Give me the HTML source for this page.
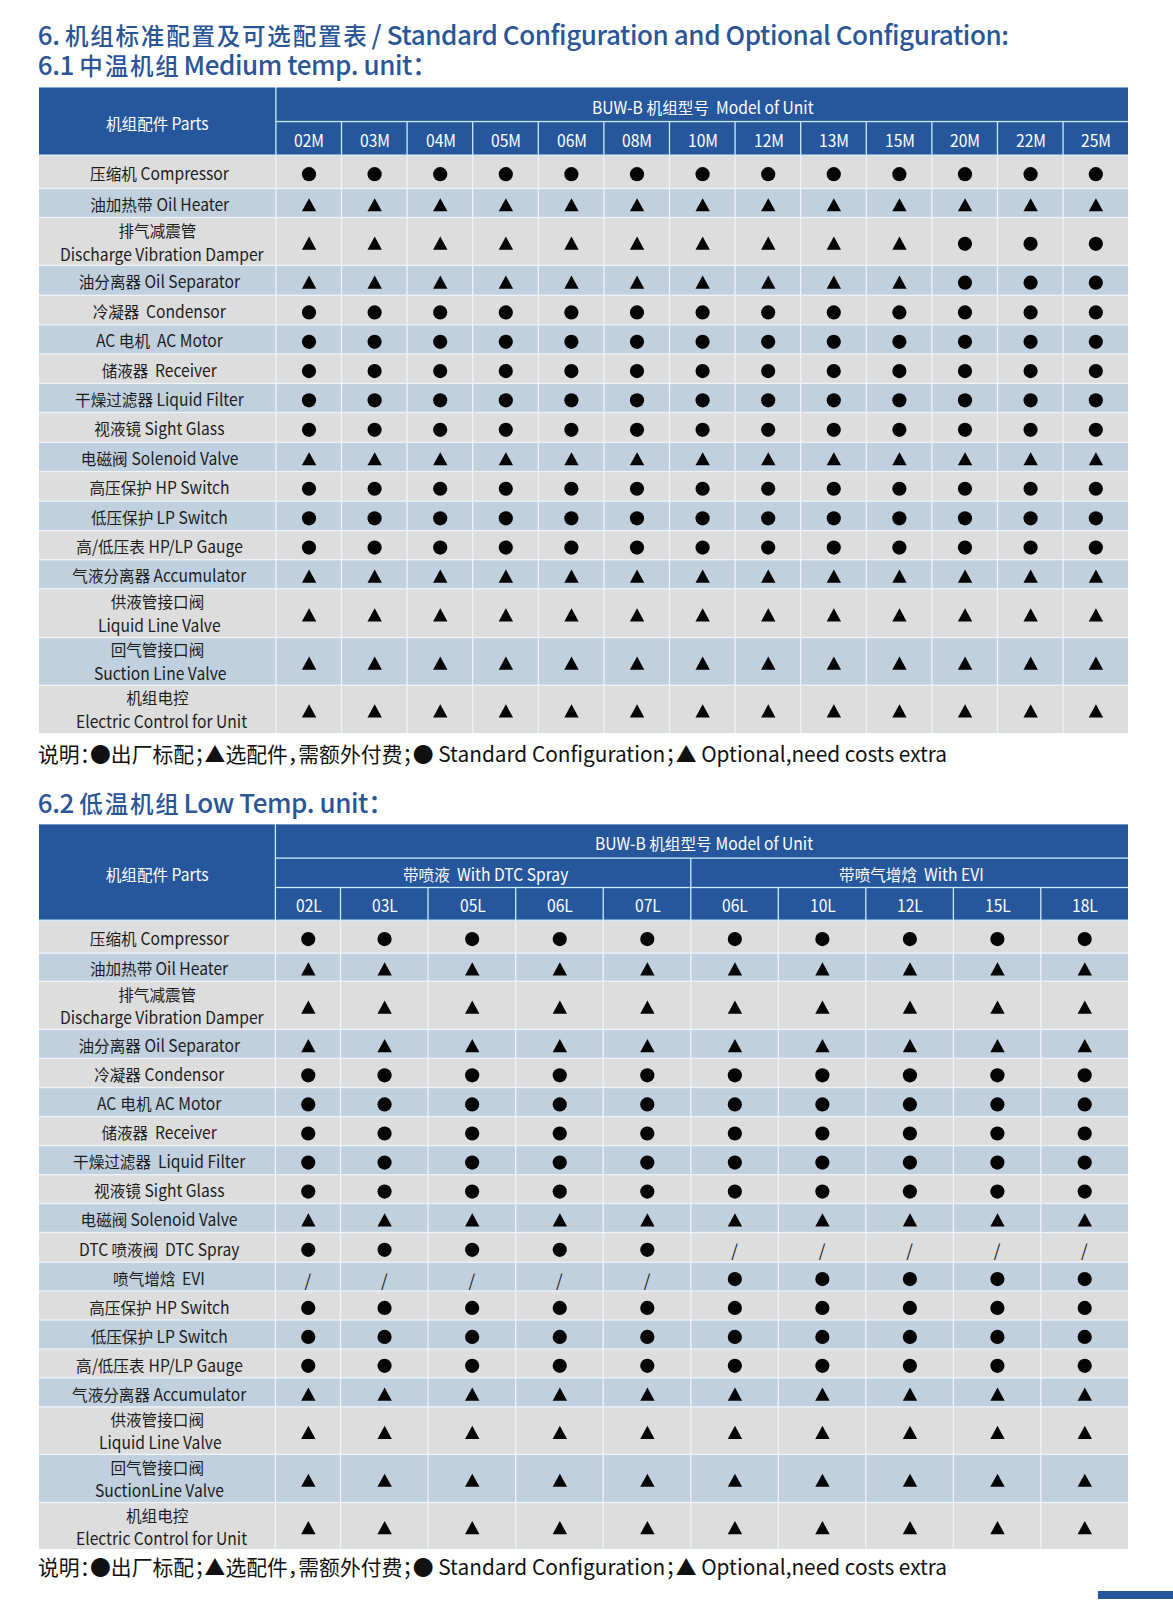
<!DOCTYPE html>
<html lang="zh-CN"><head><meta charset="utf-8"><title>Standard Configuration and Optional Configuration</title>
<style>
html,body{margin:0;padding:0;background:#fff;}
body{width:1173px;height:1600px;position:relative;overflow:hidden;font-family:"Noto Sans CJK SC", "Liberation Sans", sans-serif;}
.g{position:absolute;left:0;top:0;}
.t{position:absolute;height:24px;text-align:center;white-space:nowrap;}
.t span{display:inline-block;white-space:pre;}
.t .l{transform:scaleX(0.92);transform-origin:0 0;}
.t .k{font-size:15.6px;}
.sl{position:absolute;width:20px;height:24px;line-height:24px;text-align:center;font-size:17px;color:#222;}
.ttl{position:absolute;left:37.8px;color:#2a5596;font-size:26px;font-weight:500;white-space:nowrap;line-height:30px;letter-spacing:-0.42px;}
.ttl .cj{font-size:23.5px;letter-spacing:1.8px;margin-right:3px;}
.note{position:absolute;left:38.3px;color:#111;font-size:21px;white-space:nowrap;line-height:26px;font-feature-settings:'halt';transform:scaleX(0.9915);transform-origin:0 0;}
.bar{position:absolute;left:1098.3px;top:1590.6px;width:75px;height:8.6px;background:#26579d;}
</style></head><body>
<div class="ttl" style="top:19px">6. <span class="cj">机组标准配置及可选配置表</span>/ Standard Configuration and Optional Configuration:</div>
<div class="ttl" style="top:49px">6.1 <span class="cj">中温机组</span>Medium temp. unit：</div>
<svg class="g" width="1173" height="1600" viewBox="0 0 1173 1600"><rect x="39.00" y="155.10" width="1089.00" height="578.00" fill="#edf3f9"/><rect x="39.00" y="87.50" width="1089.00" height="68.25" fill="#c8ecfc"/><rect x="39.00" y="87.50" width="236.25" height="66.95" fill="#26579d"/><rect x="276.55" y="87.50" width="851.45" height="33.40" fill="#26579d"/><rect x="276.55" y="122.20" width="64.30" height="32.25" fill="#26579d"/><rect x="342.15" y="122.20" width="64.30" height="32.25" fill="#26579d"/><rect x="407.74" y="122.20" width="64.30" height="32.25" fill="#26579d"/><rect x="473.34" y="122.20" width="64.30" height="32.25" fill="#26579d"/><rect x="538.94" y="122.20" width="64.30" height="32.25" fill="#26579d"/><rect x="604.53" y="122.20" width="64.30" height="32.25" fill="#26579d"/><rect x="670.13" y="122.20" width="64.30" height="32.25" fill="#26579d"/><rect x="735.73" y="122.20" width="64.30" height="32.25" fill="#26579d"/><rect x="801.33" y="122.20" width="64.30" height="32.25" fill="#26579d"/><rect x="866.92" y="122.20" width="64.30" height="32.25" fill="#26579d"/><rect x="932.52" y="122.20" width="64.30" height="32.25" fill="#26579d"/><rect x="998.12" y="122.20" width="64.30" height="32.25" fill="#26579d"/><rect x="1063.71" y="122.20" width="64.29" height="32.25" fill="#26579d"/><rect x="39.00" y="155.75" width="236.25" height="32.00" fill="#dddddd"/><rect x="276.55" y="155.75" width="64.30" height="32.00" fill="#dddddd"/><rect x="342.15" y="155.75" width="64.30" height="32.00" fill="#dddddd"/><rect x="407.74" y="155.75" width="64.30" height="32.00" fill="#dddddd"/><rect x="473.34" y="155.75" width="64.30" height="32.00" fill="#dddddd"/><rect x="538.94" y="155.75" width="64.30" height="32.00" fill="#dddddd"/><rect x="604.53" y="155.75" width="64.30" height="32.00" fill="#dddddd"/><rect x="670.13" y="155.75" width="64.30" height="32.00" fill="#dddddd"/><rect x="735.73" y="155.75" width="64.30" height="32.00" fill="#dddddd"/><rect x="801.33" y="155.75" width="64.30" height="32.00" fill="#dddddd"/><rect x="866.92" y="155.75" width="64.30" height="32.00" fill="#dddddd"/><rect x="932.52" y="155.75" width="64.30" height="32.00" fill="#dddddd"/><rect x="998.12" y="155.75" width="64.30" height="32.00" fill="#dddddd"/><rect x="1063.71" y="155.75" width="64.29" height="32.00" fill="#dddddd"/><circle cx="309.00" cy="174.15" r="7.1" fill="#050505"/><circle cx="374.60" cy="174.15" r="7.1" fill="#050505"/><circle cx="440.19" cy="174.15" r="7.1" fill="#050505"/><circle cx="505.79" cy="174.15" r="7.1" fill="#050505"/><circle cx="571.39" cy="174.15" r="7.1" fill="#050505"/><circle cx="636.98" cy="174.15" r="7.1" fill="#050505"/><circle cx="702.58" cy="174.15" r="7.1" fill="#050505"/><circle cx="768.18" cy="174.15" r="7.1" fill="#050505"/><circle cx="833.77" cy="174.15" r="7.1" fill="#050505"/><circle cx="899.37" cy="174.15" r="7.1" fill="#050505"/><circle cx="964.97" cy="174.15" r="7.1" fill="#050505"/><circle cx="1030.57" cy="174.15" r="7.1" fill="#050505"/><circle cx="1095.83" cy="174.15" r="7.1" fill="#050505"/><rect x="39.00" y="189.05" width="236.25" height="27.80" fill="#c0d0de"/><rect x="276.55" y="189.05" width="64.30" height="27.80" fill="#c0d0de"/><rect x="342.15" y="189.05" width="64.30" height="27.80" fill="#c0d0de"/><rect x="407.74" y="189.05" width="64.30" height="27.80" fill="#c0d0de"/><rect x="473.34" y="189.05" width="64.30" height="27.80" fill="#c0d0de"/><rect x="538.94" y="189.05" width="64.30" height="27.80" fill="#c0d0de"/><rect x="604.53" y="189.05" width="64.30" height="27.80" fill="#c0d0de"/><rect x="670.13" y="189.05" width="64.30" height="27.80" fill="#c0d0de"/><rect x="735.73" y="189.05" width="64.30" height="27.80" fill="#c0d0de"/><rect x="801.33" y="189.05" width="64.30" height="27.80" fill="#c0d0de"/><rect x="866.92" y="189.05" width="64.30" height="27.80" fill="#c0d0de"/><rect x="932.52" y="189.05" width="64.30" height="27.80" fill="#c0d0de"/><rect x="998.12" y="189.05" width="64.30" height="27.80" fill="#c0d0de"/><rect x="1063.71" y="189.05" width="64.29" height="27.80" fill="#c0d0de"/><polygon points="309.10,198.15 316.30,211.35 301.90,211.35" fill="#050505"/><polygon points="374.70,198.15 381.90,211.35 367.50,211.35" fill="#050505"/><polygon points="440.29,198.15 447.49,211.35 433.09,211.35" fill="#050505"/><polygon points="505.89,198.15 513.09,211.35 498.69,211.35" fill="#050505"/><polygon points="571.49,198.15 578.69,211.35 564.29,211.35" fill="#050505"/><polygon points="637.08,198.15 644.28,211.35 629.88,211.35" fill="#050505"/><polygon points="702.68,198.15 709.88,211.35 695.48,211.35" fill="#050505"/><polygon points="768.28,198.15 775.48,211.35 761.08,211.35" fill="#050505"/><polygon points="833.87,198.15 841.07,211.35 826.67,211.35" fill="#050505"/><polygon points="899.47,198.15 906.67,211.35 892.27,211.35" fill="#050505"/><polygon points="965.07,198.15 972.27,211.35 957.87,211.35" fill="#050505"/><polygon points="1030.67,198.15 1037.87,211.35 1023.47,211.35" fill="#050505"/><polygon points="1095.93,198.15 1103.13,211.35 1088.73,211.35" fill="#050505"/><rect x="39.00" y="218.15" width="236.25" height="46.50" fill="#dddddd"/><rect x="276.55" y="218.15" width="64.30" height="46.50" fill="#dddddd"/><rect x="342.15" y="218.15" width="64.30" height="46.50" fill="#dddddd"/><rect x="407.74" y="218.15" width="64.30" height="46.50" fill="#dddddd"/><rect x="473.34" y="218.15" width="64.30" height="46.50" fill="#dddddd"/><rect x="538.94" y="218.15" width="64.30" height="46.50" fill="#dddddd"/><rect x="604.53" y="218.15" width="64.30" height="46.50" fill="#dddddd"/><rect x="670.13" y="218.15" width="64.30" height="46.50" fill="#dddddd"/><rect x="735.73" y="218.15" width="64.30" height="46.50" fill="#dddddd"/><rect x="801.33" y="218.15" width="64.30" height="46.50" fill="#dddddd"/><rect x="866.92" y="218.15" width="64.30" height="46.50" fill="#dddddd"/><rect x="932.52" y="218.15" width="64.30" height="46.50" fill="#dddddd"/><rect x="998.12" y="218.15" width="64.30" height="46.50" fill="#dddddd"/><rect x="1063.71" y="218.15" width="64.29" height="46.50" fill="#dddddd"/><polygon points="309.10,236.60 316.30,249.80 301.90,249.80" fill="#050505"/><polygon points="374.70,236.60 381.90,249.80 367.50,249.80" fill="#050505"/><polygon points="440.29,236.60 447.49,249.80 433.09,249.80" fill="#050505"/><polygon points="505.89,236.60 513.09,249.80 498.69,249.80" fill="#050505"/><polygon points="571.49,236.60 578.69,249.80 564.29,249.80" fill="#050505"/><polygon points="637.08,236.60 644.28,249.80 629.88,249.80" fill="#050505"/><polygon points="702.68,236.60 709.88,249.80 695.48,249.80" fill="#050505"/><polygon points="768.28,236.60 775.48,249.80 761.08,249.80" fill="#050505"/><polygon points="833.87,236.60 841.07,249.80 826.67,249.80" fill="#050505"/><polygon points="899.47,236.60 906.67,249.80 892.27,249.80" fill="#050505"/><circle cx="964.97" cy="243.80" r="7.1" fill="#050505"/><circle cx="1030.57" cy="243.80" r="7.1" fill="#050505"/><circle cx="1095.83" cy="243.80" r="7.1" fill="#050505"/><rect x="39.00" y="265.95" width="236.25" height="28.70" fill="#c0d0de"/><rect x="276.55" y="265.95" width="64.30" height="28.70" fill="#c0d0de"/><rect x="342.15" y="265.95" width="64.30" height="28.70" fill="#c0d0de"/><rect x="407.74" y="265.95" width="64.30" height="28.70" fill="#c0d0de"/><rect x="473.34" y="265.95" width="64.30" height="28.70" fill="#c0d0de"/><rect x="538.94" y="265.95" width="64.30" height="28.70" fill="#c0d0de"/><rect x="604.53" y="265.95" width="64.30" height="28.70" fill="#c0d0de"/><rect x="670.13" y="265.95" width="64.30" height="28.70" fill="#c0d0de"/><rect x="735.73" y="265.95" width="64.30" height="28.70" fill="#c0d0de"/><rect x="801.33" y="265.95" width="64.30" height="28.70" fill="#c0d0de"/><rect x="866.92" y="265.95" width="64.30" height="28.70" fill="#c0d0de"/><rect x="932.52" y="265.95" width="64.30" height="28.70" fill="#c0d0de"/><rect x="998.12" y="265.95" width="64.30" height="28.70" fill="#c0d0de"/><rect x="1063.71" y="265.95" width="64.29" height="28.70" fill="#c0d0de"/><polygon points="309.10,275.50 316.30,288.70 301.90,288.70" fill="#050505"/><polygon points="374.70,275.50 381.90,288.70 367.50,288.70" fill="#050505"/><polygon points="440.29,275.50 447.49,288.70 433.09,288.70" fill="#050505"/><polygon points="505.89,275.50 513.09,288.70 498.69,288.70" fill="#050505"/><polygon points="571.49,275.50 578.69,288.70 564.29,288.70" fill="#050505"/><polygon points="637.08,275.50 644.28,288.70 629.88,288.70" fill="#050505"/><polygon points="702.68,275.50 709.88,288.70 695.48,288.70" fill="#050505"/><polygon points="768.28,275.50 775.48,288.70 761.08,288.70" fill="#050505"/><polygon points="833.87,275.50 841.07,288.70 826.67,288.70" fill="#050505"/><polygon points="899.47,275.50 906.67,288.70 892.27,288.70" fill="#050505"/><circle cx="964.97" cy="282.70" r="7.1" fill="#050505"/><circle cx="1030.57" cy="282.70" r="7.1" fill="#050505"/><circle cx="1095.83" cy="282.70" r="7.1" fill="#050505"/><rect x="39.00" y="295.95" width="236.25" height="28.20" fill="#dddddd"/><rect x="276.55" y="295.95" width="64.30" height="28.20" fill="#dddddd"/><rect x="342.15" y="295.95" width="64.30" height="28.20" fill="#dddddd"/><rect x="407.74" y="295.95" width="64.30" height="28.20" fill="#dddddd"/><rect x="473.34" y="295.95" width="64.30" height="28.20" fill="#dddddd"/><rect x="538.94" y="295.95" width="64.30" height="28.20" fill="#dddddd"/><rect x="604.53" y="295.95" width="64.30" height="28.20" fill="#dddddd"/><rect x="670.13" y="295.95" width="64.30" height="28.20" fill="#dddddd"/><rect x="735.73" y="295.95" width="64.30" height="28.20" fill="#dddddd"/><rect x="801.33" y="295.95" width="64.30" height="28.20" fill="#dddddd"/><rect x="866.92" y="295.95" width="64.30" height="28.20" fill="#dddddd"/><rect x="932.52" y="295.95" width="64.30" height="28.20" fill="#dddddd"/><rect x="998.12" y="295.95" width="64.30" height="28.20" fill="#dddddd"/><rect x="1063.71" y="295.95" width="64.29" height="28.20" fill="#dddddd"/><circle cx="309.00" cy="312.45" r="7.1" fill="#050505"/><circle cx="374.60" cy="312.45" r="7.1" fill="#050505"/><circle cx="440.19" cy="312.45" r="7.1" fill="#050505"/><circle cx="505.79" cy="312.45" r="7.1" fill="#050505"/><circle cx="571.39" cy="312.45" r="7.1" fill="#050505"/><circle cx="636.98" cy="312.45" r="7.1" fill="#050505"/><circle cx="702.58" cy="312.45" r="7.1" fill="#050505"/><circle cx="768.18" cy="312.45" r="7.1" fill="#050505"/><circle cx="833.77" cy="312.45" r="7.1" fill="#050505"/><circle cx="899.37" cy="312.45" r="7.1" fill="#050505"/><circle cx="964.97" cy="312.45" r="7.1" fill="#050505"/><circle cx="1030.57" cy="312.45" r="7.1" fill="#050505"/><circle cx="1095.83" cy="312.45" r="7.1" fill="#050505"/><rect x="39.00" y="325.45" width="236.25" height="27.90" fill="#c0d0de"/><rect x="276.55" y="325.45" width="64.30" height="27.90" fill="#c0d0de"/><rect x="342.15" y="325.45" width="64.30" height="27.90" fill="#c0d0de"/><rect x="407.74" y="325.45" width="64.30" height="27.90" fill="#c0d0de"/><rect x="473.34" y="325.45" width="64.30" height="27.90" fill="#c0d0de"/><rect x="538.94" y="325.45" width="64.30" height="27.90" fill="#c0d0de"/><rect x="604.53" y="325.45" width="64.30" height="27.90" fill="#c0d0de"/><rect x="670.13" y="325.45" width="64.30" height="27.90" fill="#c0d0de"/><rect x="735.73" y="325.45" width="64.30" height="27.90" fill="#c0d0de"/><rect x="801.33" y="325.45" width="64.30" height="27.90" fill="#c0d0de"/><rect x="866.92" y="325.45" width="64.30" height="27.90" fill="#c0d0de"/><rect x="932.52" y="325.45" width="64.30" height="27.90" fill="#c0d0de"/><rect x="998.12" y="325.45" width="64.30" height="27.90" fill="#c0d0de"/><rect x="1063.71" y="325.45" width="64.29" height="27.90" fill="#c0d0de"/><circle cx="309.00" cy="341.80" r="7.1" fill="#050505"/><circle cx="374.60" cy="341.80" r="7.1" fill="#050505"/><circle cx="440.19" cy="341.80" r="7.1" fill="#050505"/><circle cx="505.79" cy="341.80" r="7.1" fill="#050505"/><circle cx="571.39" cy="341.80" r="7.1" fill="#050505"/><circle cx="636.98" cy="341.80" r="7.1" fill="#050505"/><circle cx="702.58" cy="341.80" r="7.1" fill="#050505"/><circle cx="768.18" cy="341.80" r="7.1" fill="#050505"/><circle cx="833.77" cy="341.80" r="7.1" fill="#050505"/><circle cx="899.37" cy="341.80" r="7.1" fill="#050505"/><circle cx="964.97" cy="341.80" r="7.1" fill="#050505"/><circle cx="1030.57" cy="341.80" r="7.1" fill="#050505"/><circle cx="1095.83" cy="341.80" r="7.1" fill="#050505"/><rect x="39.00" y="354.65" width="236.25" height="28.10" fill="#dddddd"/><rect x="276.55" y="354.65" width="64.30" height="28.10" fill="#dddddd"/><rect x="342.15" y="354.65" width="64.30" height="28.10" fill="#dddddd"/><rect x="407.74" y="354.65" width="64.30" height="28.10" fill="#dddddd"/><rect x="473.34" y="354.65" width="64.30" height="28.10" fill="#dddddd"/><rect x="538.94" y="354.65" width="64.30" height="28.10" fill="#dddddd"/><rect x="604.53" y="354.65" width="64.30" height="28.10" fill="#dddddd"/><rect x="670.13" y="354.65" width="64.30" height="28.10" fill="#dddddd"/><rect x="735.73" y="354.65" width="64.30" height="28.10" fill="#dddddd"/><rect x="801.33" y="354.65" width="64.30" height="28.10" fill="#dddddd"/><rect x="866.92" y="354.65" width="64.30" height="28.10" fill="#dddddd"/><rect x="932.52" y="354.65" width="64.30" height="28.10" fill="#dddddd"/><rect x="998.12" y="354.65" width="64.30" height="28.10" fill="#dddddd"/><rect x="1063.71" y="354.65" width="64.29" height="28.10" fill="#dddddd"/><circle cx="309.00" cy="371.10" r="7.1" fill="#050505"/><circle cx="374.60" cy="371.10" r="7.1" fill="#050505"/><circle cx="440.19" cy="371.10" r="7.1" fill="#050505"/><circle cx="505.79" cy="371.10" r="7.1" fill="#050505"/><circle cx="571.39" cy="371.10" r="7.1" fill="#050505"/><circle cx="636.98" cy="371.10" r="7.1" fill="#050505"/><circle cx="702.58" cy="371.10" r="7.1" fill="#050505"/><circle cx="768.18" cy="371.10" r="7.1" fill="#050505"/><circle cx="833.77" cy="371.10" r="7.1" fill="#050505"/><circle cx="899.37" cy="371.10" r="7.1" fill="#050505"/><circle cx="964.97" cy="371.10" r="7.1" fill="#050505"/><circle cx="1030.57" cy="371.10" r="7.1" fill="#050505"/><circle cx="1095.83" cy="371.10" r="7.1" fill="#050505"/><rect x="39.00" y="384.05" width="236.25" height="27.80" fill="#c0d0de"/><rect x="276.55" y="384.05" width="64.30" height="27.80" fill="#c0d0de"/><rect x="342.15" y="384.05" width="64.30" height="27.80" fill="#c0d0de"/><rect x="407.74" y="384.05" width="64.30" height="27.80" fill="#c0d0de"/><rect x="473.34" y="384.05" width="64.30" height="27.80" fill="#c0d0de"/><rect x="538.94" y="384.05" width="64.30" height="27.80" fill="#c0d0de"/><rect x="604.53" y="384.05" width="64.30" height="27.80" fill="#c0d0de"/><rect x="670.13" y="384.05" width="64.30" height="27.80" fill="#c0d0de"/><rect x="735.73" y="384.05" width="64.30" height="27.80" fill="#c0d0de"/><rect x="801.33" y="384.05" width="64.30" height="27.80" fill="#c0d0de"/><rect x="866.92" y="384.05" width="64.30" height="27.80" fill="#c0d0de"/><rect x="932.52" y="384.05" width="64.30" height="27.80" fill="#c0d0de"/><rect x="998.12" y="384.05" width="64.30" height="27.80" fill="#c0d0de"/><rect x="1063.71" y="384.05" width="64.29" height="27.80" fill="#c0d0de"/><circle cx="309.00" cy="400.35" r="7.1" fill="#050505"/><circle cx="374.60" cy="400.35" r="7.1" fill="#050505"/><circle cx="440.19" cy="400.35" r="7.1" fill="#050505"/><circle cx="505.79" cy="400.35" r="7.1" fill="#050505"/><circle cx="571.39" cy="400.35" r="7.1" fill="#050505"/><circle cx="636.98" cy="400.35" r="7.1" fill="#050505"/><circle cx="702.58" cy="400.35" r="7.1" fill="#050505"/><circle cx="768.18" cy="400.35" r="7.1" fill="#050505"/><circle cx="833.77" cy="400.35" r="7.1" fill="#050505"/><circle cx="899.37" cy="400.35" r="7.1" fill="#050505"/><circle cx="964.97" cy="400.35" r="7.1" fill="#050505"/><circle cx="1030.57" cy="400.35" r="7.1" fill="#050505"/><circle cx="1095.83" cy="400.35" r="7.1" fill="#050505"/><rect x="39.00" y="413.15" width="236.25" height="28.60" fill="#dddddd"/><rect x="276.55" y="413.15" width="64.30" height="28.60" fill="#dddddd"/><rect x="342.15" y="413.15" width="64.30" height="28.60" fill="#dddddd"/><rect x="407.74" y="413.15" width="64.30" height="28.60" fill="#dddddd"/><rect x="473.34" y="413.15" width="64.30" height="28.60" fill="#dddddd"/><rect x="538.94" y="413.15" width="64.30" height="28.60" fill="#dddddd"/><rect x="604.53" y="413.15" width="64.30" height="28.60" fill="#dddddd"/><rect x="670.13" y="413.15" width="64.30" height="28.60" fill="#dddddd"/><rect x="735.73" y="413.15" width="64.30" height="28.60" fill="#dddddd"/><rect x="801.33" y="413.15" width="64.30" height="28.60" fill="#dddddd"/><rect x="866.92" y="413.15" width="64.30" height="28.60" fill="#dddddd"/><rect x="932.52" y="413.15" width="64.30" height="28.60" fill="#dddddd"/><rect x="998.12" y="413.15" width="64.30" height="28.60" fill="#dddddd"/><rect x="1063.71" y="413.15" width="64.29" height="28.60" fill="#dddddd"/><circle cx="309.00" cy="429.85" r="7.1" fill="#050505"/><circle cx="374.60" cy="429.85" r="7.1" fill="#050505"/><circle cx="440.19" cy="429.85" r="7.1" fill="#050505"/><circle cx="505.79" cy="429.85" r="7.1" fill="#050505"/><circle cx="571.39" cy="429.85" r="7.1" fill="#050505"/><circle cx="636.98" cy="429.85" r="7.1" fill="#050505"/><circle cx="702.58" cy="429.85" r="7.1" fill="#050505"/><circle cx="768.18" cy="429.85" r="7.1" fill="#050505"/><circle cx="833.77" cy="429.85" r="7.1" fill="#050505"/><circle cx="899.37" cy="429.85" r="7.1" fill="#050505"/><circle cx="964.97" cy="429.85" r="7.1" fill="#050505"/><circle cx="1030.57" cy="429.85" r="7.1" fill="#050505"/><circle cx="1095.83" cy="429.85" r="7.1" fill="#050505"/><rect x="39.00" y="443.05" width="236.25" height="27.80" fill="#c0d0de"/><rect x="276.55" y="443.05" width="64.30" height="27.80" fill="#c0d0de"/><rect x="342.15" y="443.05" width="64.30" height="27.80" fill="#c0d0de"/><rect x="407.74" y="443.05" width="64.30" height="27.80" fill="#c0d0de"/><rect x="473.34" y="443.05" width="64.30" height="27.80" fill="#c0d0de"/><rect x="538.94" y="443.05" width="64.30" height="27.80" fill="#c0d0de"/><rect x="604.53" y="443.05" width="64.30" height="27.80" fill="#c0d0de"/><rect x="670.13" y="443.05" width="64.30" height="27.80" fill="#c0d0de"/><rect x="735.73" y="443.05" width="64.30" height="27.80" fill="#c0d0de"/><rect x="801.33" y="443.05" width="64.30" height="27.80" fill="#c0d0de"/><rect x="866.92" y="443.05" width="64.30" height="27.80" fill="#c0d0de"/><rect x="932.52" y="443.05" width="64.30" height="27.80" fill="#c0d0de"/><rect x="998.12" y="443.05" width="64.30" height="27.80" fill="#c0d0de"/><rect x="1063.71" y="443.05" width="64.29" height="27.80" fill="#c0d0de"/><polygon points="309.10,452.15 316.30,465.35 301.90,465.35" fill="#050505"/><polygon points="374.70,452.15 381.90,465.35 367.50,465.35" fill="#050505"/><polygon points="440.29,452.15 447.49,465.35 433.09,465.35" fill="#050505"/><polygon points="505.89,452.15 513.09,465.35 498.69,465.35" fill="#050505"/><polygon points="571.49,452.15 578.69,465.35 564.29,465.35" fill="#050505"/><polygon points="637.08,452.15 644.28,465.35 629.88,465.35" fill="#050505"/><polygon points="702.68,452.15 709.88,465.35 695.48,465.35" fill="#050505"/><polygon points="768.28,452.15 775.48,465.35 761.08,465.35" fill="#050505"/><polygon points="833.87,452.15 841.07,465.35 826.67,465.35" fill="#050505"/><polygon points="899.47,452.15 906.67,465.35 892.27,465.35" fill="#050505"/><polygon points="965.07,452.15 972.27,465.35 957.87,465.35" fill="#050505"/><polygon points="1030.67,452.15 1037.87,465.35 1023.47,465.35" fill="#050505"/><polygon points="1095.93,452.15 1103.13,465.35 1088.73,465.35" fill="#050505"/><rect x="39.00" y="472.15" width="236.25" height="28.40" fill="#dddddd"/><rect x="276.55" y="472.15" width="64.30" height="28.40" fill="#dddddd"/><rect x="342.15" y="472.15" width="64.30" height="28.40" fill="#dddddd"/><rect x="407.74" y="472.15" width="64.30" height="28.40" fill="#dddddd"/><rect x="473.34" y="472.15" width="64.30" height="28.40" fill="#dddddd"/><rect x="538.94" y="472.15" width="64.30" height="28.40" fill="#dddddd"/><rect x="604.53" y="472.15" width="64.30" height="28.40" fill="#dddddd"/><rect x="670.13" y="472.15" width="64.30" height="28.40" fill="#dddddd"/><rect x="735.73" y="472.15" width="64.30" height="28.40" fill="#dddddd"/><rect x="801.33" y="472.15" width="64.30" height="28.40" fill="#dddddd"/><rect x="866.92" y="472.15" width="64.30" height="28.40" fill="#dddddd"/><rect x="932.52" y="472.15" width="64.30" height="28.40" fill="#dddddd"/><rect x="998.12" y="472.15" width="64.30" height="28.40" fill="#dddddd"/><rect x="1063.71" y="472.15" width="64.29" height="28.40" fill="#dddddd"/><circle cx="309.00" cy="488.75" r="7.1" fill="#050505"/><circle cx="374.60" cy="488.75" r="7.1" fill="#050505"/><circle cx="440.19" cy="488.75" r="7.1" fill="#050505"/><circle cx="505.79" cy="488.75" r="7.1" fill="#050505"/><circle cx="571.39" cy="488.75" r="7.1" fill="#050505"/><circle cx="636.98" cy="488.75" r="7.1" fill="#050505"/><circle cx="702.58" cy="488.75" r="7.1" fill="#050505"/><circle cx="768.18" cy="488.75" r="7.1" fill="#050505"/><circle cx="833.77" cy="488.75" r="7.1" fill="#050505"/><circle cx="899.37" cy="488.75" r="7.1" fill="#050505"/><circle cx="964.97" cy="488.75" r="7.1" fill="#050505"/><circle cx="1030.57" cy="488.75" r="7.1" fill="#050505"/><circle cx="1095.83" cy="488.75" r="7.1" fill="#050505"/><rect x="39.00" y="501.85" width="236.25" height="28.10" fill="#c0d0de"/><rect x="276.55" y="501.85" width="64.30" height="28.10" fill="#c0d0de"/><rect x="342.15" y="501.85" width="64.30" height="28.10" fill="#c0d0de"/><rect x="407.74" y="501.85" width="64.30" height="28.10" fill="#c0d0de"/><rect x="473.34" y="501.85" width="64.30" height="28.10" fill="#c0d0de"/><rect x="538.94" y="501.85" width="64.30" height="28.10" fill="#c0d0de"/><rect x="604.53" y="501.85" width="64.30" height="28.10" fill="#c0d0de"/><rect x="670.13" y="501.85" width="64.30" height="28.10" fill="#c0d0de"/><rect x="735.73" y="501.85" width="64.30" height="28.10" fill="#c0d0de"/><rect x="801.33" y="501.85" width="64.30" height="28.10" fill="#c0d0de"/><rect x="866.92" y="501.85" width="64.30" height="28.10" fill="#c0d0de"/><rect x="932.52" y="501.85" width="64.30" height="28.10" fill="#c0d0de"/><rect x="998.12" y="501.85" width="64.30" height="28.10" fill="#c0d0de"/><rect x="1063.71" y="501.85" width="64.29" height="28.10" fill="#c0d0de"/><circle cx="309.00" cy="518.30" r="7.1" fill="#050505"/><circle cx="374.60" cy="518.30" r="7.1" fill="#050505"/><circle cx="440.19" cy="518.30" r="7.1" fill="#050505"/><circle cx="505.79" cy="518.30" r="7.1" fill="#050505"/><circle cx="571.39" cy="518.30" r="7.1" fill="#050505"/><circle cx="636.98" cy="518.30" r="7.1" fill="#050505"/><circle cx="702.58" cy="518.30" r="7.1" fill="#050505"/><circle cx="768.18" cy="518.30" r="7.1" fill="#050505"/><circle cx="833.77" cy="518.30" r="7.1" fill="#050505"/><circle cx="899.37" cy="518.30" r="7.1" fill="#050505"/><circle cx="964.97" cy="518.30" r="7.1" fill="#050505"/><circle cx="1030.57" cy="518.30" r="7.1" fill="#050505"/><circle cx="1095.83" cy="518.30" r="7.1" fill="#050505"/><rect x="39.00" y="531.25" width="236.25" height="27.85" fill="#dddddd"/><rect x="276.55" y="531.25" width="64.30" height="27.85" fill="#dddddd"/><rect x="342.15" y="531.25" width="64.30" height="27.85" fill="#dddddd"/><rect x="407.74" y="531.25" width="64.30" height="27.85" fill="#dddddd"/><rect x="473.34" y="531.25" width="64.30" height="27.85" fill="#dddddd"/><rect x="538.94" y="531.25" width="64.30" height="27.85" fill="#dddddd"/><rect x="604.53" y="531.25" width="64.30" height="27.85" fill="#dddddd"/><rect x="670.13" y="531.25" width="64.30" height="27.85" fill="#dddddd"/><rect x="735.73" y="531.25" width="64.30" height="27.85" fill="#dddddd"/><rect x="801.33" y="531.25" width="64.30" height="27.85" fill="#dddddd"/><rect x="866.92" y="531.25" width="64.30" height="27.85" fill="#dddddd"/><rect x="932.52" y="531.25" width="64.30" height="27.85" fill="#dddddd"/><rect x="998.12" y="531.25" width="64.30" height="27.85" fill="#dddddd"/><rect x="1063.71" y="531.25" width="64.29" height="27.85" fill="#dddddd"/><circle cx="309.00" cy="547.57" r="7.1" fill="#050505"/><circle cx="374.60" cy="547.57" r="7.1" fill="#050505"/><circle cx="440.19" cy="547.57" r="7.1" fill="#050505"/><circle cx="505.79" cy="547.57" r="7.1" fill="#050505"/><circle cx="571.39" cy="547.57" r="7.1" fill="#050505"/><circle cx="636.98" cy="547.57" r="7.1" fill="#050505"/><circle cx="702.58" cy="547.57" r="7.1" fill="#050505"/><circle cx="768.18" cy="547.57" r="7.1" fill="#050505"/><circle cx="833.77" cy="547.57" r="7.1" fill="#050505"/><circle cx="899.37" cy="547.57" r="7.1" fill="#050505"/><circle cx="964.97" cy="547.57" r="7.1" fill="#050505"/><circle cx="1030.57" cy="547.57" r="7.1" fill="#050505"/><circle cx="1095.83" cy="547.57" r="7.1" fill="#050505"/><rect x="39.00" y="560.40" width="236.25" height="27.70" fill="#c0d0de"/><rect x="276.55" y="560.40" width="64.30" height="27.70" fill="#c0d0de"/><rect x="342.15" y="560.40" width="64.30" height="27.70" fill="#c0d0de"/><rect x="407.74" y="560.40" width="64.30" height="27.70" fill="#c0d0de"/><rect x="473.34" y="560.40" width="64.30" height="27.70" fill="#c0d0de"/><rect x="538.94" y="560.40" width="64.30" height="27.70" fill="#c0d0de"/><rect x="604.53" y="560.40" width="64.30" height="27.70" fill="#c0d0de"/><rect x="670.13" y="560.40" width="64.30" height="27.70" fill="#c0d0de"/><rect x="735.73" y="560.40" width="64.30" height="27.70" fill="#c0d0de"/><rect x="801.33" y="560.40" width="64.30" height="27.70" fill="#c0d0de"/><rect x="866.92" y="560.40" width="64.30" height="27.70" fill="#c0d0de"/><rect x="932.52" y="560.40" width="64.30" height="27.70" fill="#c0d0de"/><rect x="998.12" y="560.40" width="64.30" height="27.70" fill="#c0d0de"/><rect x="1063.71" y="560.40" width="64.29" height="27.70" fill="#c0d0de"/><polygon points="309.10,569.45 316.30,582.65 301.90,582.65" fill="#050505"/><polygon points="374.70,569.45 381.90,582.65 367.50,582.65" fill="#050505"/><polygon points="440.29,569.45 447.49,582.65 433.09,582.65" fill="#050505"/><polygon points="505.89,569.45 513.09,582.65 498.69,582.65" fill="#050505"/><polygon points="571.49,569.45 578.69,582.65 564.29,582.65" fill="#050505"/><polygon points="637.08,569.45 644.28,582.65 629.88,582.65" fill="#050505"/><polygon points="702.68,569.45 709.88,582.65 695.48,582.65" fill="#050505"/><polygon points="768.28,569.45 775.48,582.65 761.08,582.65" fill="#050505"/><polygon points="833.87,569.45 841.07,582.65 826.67,582.65" fill="#050505"/><polygon points="899.47,569.45 906.67,582.65 892.27,582.65" fill="#050505"/><polygon points="965.07,569.45 972.27,582.65 957.87,582.65" fill="#050505"/><polygon points="1030.67,569.45 1037.87,582.65 1023.47,582.65" fill="#050505"/><polygon points="1095.93,569.45 1103.13,582.65 1088.73,582.65" fill="#050505"/><rect x="39.00" y="589.40" width="236.25" height="47.45" fill="#dddddd"/><rect x="276.55" y="589.40" width="64.30" height="47.45" fill="#dddddd"/><rect x="342.15" y="589.40" width="64.30" height="47.45" fill="#dddddd"/><rect x="407.74" y="589.40" width="64.30" height="47.45" fill="#dddddd"/><rect x="473.34" y="589.40" width="64.30" height="47.45" fill="#dddddd"/><rect x="538.94" y="589.40" width="64.30" height="47.45" fill="#dddddd"/><rect x="604.53" y="589.40" width="64.30" height="47.45" fill="#dddddd"/><rect x="670.13" y="589.40" width="64.30" height="47.45" fill="#dddddd"/><rect x="735.73" y="589.40" width="64.30" height="47.45" fill="#dddddd"/><rect x="801.33" y="589.40" width="64.30" height="47.45" fill="#dddddd"/><rect x="866.92" y="589.40" width="64.30" height="47.45" fill="#dddddd"/><rect x="932.52" y="589.40" width="64.30" height="47.45" fill="#dddddd"/><rect x="998.12" y="589.40" width="64.30" height="47.45" fill="#dddddd"/><rect x="1063.71" y="589.40" width="64.29" height="47.45" fill="#dddddd"/><polygon points="309.10,608.32 316.30,621.52 301.90,621.52" fill="#050505"/><polygon points="374.70,608.32 381.90,621.52 367.50,621.52" fill="#050505"/><polygon points="440.29,608.32 447.49,621.52 433.09,621.52" fill="#050505"/><polygon points="505.89,608.32 513.09,621.52 498.69,621.52" fill="#050505"/><polygon points="571.49,608.32 578.69,621.52 564.29,621.52" fill="#050505"/><polygon points="637.08,608.32 644.28,621.52 629.88,621.52" fill="#050505"/><polygon points="702.68,608.32 709.88,621.52 695.48,621.52" fill="#050505"/><polygon points="768.28,608.32 775.48,621.52 761.08,621.52" fill="#050505"/><polygon points="833.87,608.32 841.07,621.52 826.67,621.52" fill="#050505"/><polygon points="899.47,608.32 906.67,621.52 892.27,621.52" fill="#050505"/><polygon points="965.07,608.32 972.27,621.52 957.87,621.52" fill="#050505"/><polygon points="1030.67,608.32 1037.87,621.52 1023.47,621.52" fill="#050505"/><polygon points="1095.93,608.32 1103.13,621.52 1088.73,621.52" fill="#050505"/><rect x="39.00" y="638.15" width="236.25" height="46.45" fill="#c0d0de"/><rect x="276.55" y="638.15" width="64.30" height="46.45" fill="#c0d0de"/><rect x="342.15" y="638.15" width="64.30" height="46.45" fill="#c0d0de"/><rect x="407.74" y="638.15" width="64.30" height="46.45" fill="#c0d0de"/><rect x="473.34" y="638.15" width="64.30" height="46.45" fill="#c0d0de"/><rect x="538.94" y="638.15" width="64.30" height="46.45" fill="#c0d0de"/><rect x="604.53" y="638.15" width="64.30" height="46.45" fill="#c0d0de"/><rect x="670.13" y="638.15" width="64.30" height="46.45" fill="#c0d0de"/><rect x="735.73" y="638.15" width="64.30" height="46.45" fill="#c0d0de"/><rect x="801.33" y="638.15" width="64.30" height="46.45" fill="#c0d0de"/><rect x="866.92" y="638.15" width="64.30" height="46.45" fill="#c0d0de"/><rect x="932.52" y="638.15" width="64.30" height="46.45" fill="#c0d0de"/><rect x="998.12" y="638.15" width="64.30" height="46.45" fill="#c0d0de"/><rect x="1063.71" y="638.15" width="64.29" height="46.45" fill="#c0d0de"/><polygon points="309.10,656.57 316.30,669.77 301.90,669.77" fill="#050505"/><polygon points="374.70,656.57 381.90,669.77 367.50,669.77" fill="#050505"/><polygon points="440.29,656.57 447.49,669.77 433.09,669.77" fill="#050505"/><polygon points="505.89,656.57 513.09,669.77 498.69,669.77" fill="#050505"/><polygon points="571.49,656.57 578.69,669.77 564.29,669.77" fill="#050505"/><polygon points="637.08,656.57 644.28,669.77 629.88,669.77" fill="#050505"/><polygon points="702.68,656.57 709.88,669.77 695.48,669.77" fill="#050505"/><polygon points="768.28,656.57 775.48,669.77 761.08,669.77" fill="#050505"/><polygon points="833.87,656.57 841.07,669.77 826.67,669.77" fill="#050505"/><polygon points="899.47,656.57 906.67,669.77 892.27,669.77" fill="#050505"/><polygon points="965.07,656.57 972.27,669.77 957.87,669.77" fill="#050505"/><polygon points="1030.67,656.57 1037.87,669.77 1023.47,669.77" fill="#050505"/><polygon points="1095.93,656.57 1103.13,669.77 1088.73,669.77" fill="#050505"/><rect x="39.00" y="685.90" width="236.25" height="47.20" fill="#dddddd"/><rect x="276.55" y="685.90" width="64.30" height="47.20" fill="#dddddd"/><rect x="342.15" y="685.90" width="64.30" height="47.20" fill="#dddddd"/><rect x="407.74" y="685.90" width="64.30" height="47.20" fill="#dddddd"/><rect x="473.34" y="685.90" width="64.30" height="47.20" fill="#dddddd"/><rect x="538.94" y="685.90" width="64.30" height="47.20" fill="#dddddd"/><rect x="604.53" y="685.90" width="64.30" height="47.20" fill="#dddddd"/><rect x="670.13" y="685.90" width="64.30" height="47.20" fill="#dddddd"/><rect x="735.73" y="685.90" width="64.30" height="47.20" fill="#dddddd"/><rect x="801.33" y="685.90" width="64.30" height="47.20" fill="#dddddd"/><rect x="866.92" y="685.90" width="64.30" height="47.20" fill="#dddddd"/><rect x="932.52" y="685.90" width="64.30" height="47.20" fill="#dddddd"/><rect x="998.12" y="685.90" width="64.30" height="47.20" fill="#dddddd"/><rect x="1063.71" y="685.90" width="64.29" height="47.20" fill="#dddddd"/><polygon points="309.10,704.37 316.30,717.57 301.90,717.57" fill="#050505"/><polygon points="374.70,704.37 381.90,717.57 367.50,717.57" fill="#050505"/><polygon points="440.29,704.37 447.49,717.57 433.09,717.57" fill="#050505"/><polygon points="505.89,704.37 513.09,717.57 498.69,717.57" fill="#050505"/><polygon points="571.49,704.37 578.69,717.57 564.29,717.57" fill="#050505"/><polygon points="637.08,704.37 644.28,717.57 629.88,717.57" fill="#050505"/><polygon points="702.68,704.37 709.88,717.57 695.48,717.57" fill="#050505"/><polygon points="768.28,704.37 775.48,717.57 761.08,717.57" fill="#050505"/><polygon points="833.87,704.37 841.07,717.57 826.67,717.57" fill="#050505"/><polygon points="899.47,704.37 906.67,717.57 892.27,717.57" fill="#050505"/><polygon points="965.07,704.37 972.27,717.57 957.87,717.57" fill="#050505"/><polygon points="1030.67,704.37 1037.87,717.57 1023.47,717.57" fill="#050505"/><polygon points="1095.93,704.37 1103.13,717.57 1088.73,717.57" fill="#050505"/><rect x="39.00" y="920.20" width="1089.00" height="628.80" fill="#edf3f9"/><rect x="39.00" y="824.40" width="1089.00" height="96.45" fill="#c8ecfc"/><rect x="39.00" y="824.40" width="235.75" height="95.15" fill="#26579d"/><rect x="276.05" y="824.40" width="851.95" height="33.05" fill="#26579d"/><rect x="276.05" y="858.75" width="414.10" height="28.10" fill="#26579d"/><rect x="691.45" y="858.75" width="436.55" height="28.10" fill="#26579d"/><rect x="276.05" y="888.15" width="63.80" height="31.40" fill="#26579d"/><rect x="341.15" y="888.15" width="86.20" height="31.40" fill="#26579d"/><rect x="428.65" y="888.15" width="86.40" height="31.40" fill="#26579d"/><rect x="516.35" y="888.15" width="86.20" height="31.40" fill="#26579d"/><rect x="603.85" y="888.15" width="86.30" height="31.40" fill="#26579d"/><rect x="691.45" y="888.15" width="86.20" height="31.40" fill="#26579d"/><rect x="778.95" y="888.15" width="86.20" height="31.40" fill="#26579d"/><rect x="866.45" y="888.15" width="86.30" height="31.40" fill="#26579d"/><rect x="954.05" y="888.15" width="86.10" height="31.40" fill="#26579d"/><rect x="1041.45" y="888.15" width="86.55" height="31.40" fill="#26579d"/><rect x="39.00" y="920.85" width="235.75" height="31.60" fill="#dddddd"/><rect x="276.05" y="920.85" width="63.80" height="31.60" fill="#dddddd"/><rect x="341.15" y="920.85" width="86.20" height="31.60" fill="#dddddd"/><rect x="428.65" y="920.85" width="86.40" height="31.60" fill="#dddddd"/><rect x="516.35" y="920.85" width="86.20" height="31.60" fill="#dddddd"/><rect x="603.85" y="920.85" width="86.30" height="31.60" fill="#dddddd"/><rect x="691.45" y="920.85" width="86.20" height="31.60" fill="#dddddd"/><rect x="778.95" y="920.85" width="86.20" height="31.60" fill="#dddddd"/><rect x="866.45" y="920.85" width="86.30" height="31.60" fill="#dddddd"/><rect x="954.05" y="920.85" width="86.10" height="31.60" fill="#dddddd"/><rect x="1041.45" y="920.85" width="86.55" height="31.60" fill="#dddddd"/><circle cx="308.25" cy="939.05" r="7.1" fill="#050505"/><circle cx="384.55" cy="939.05" r="7.1" fill="#050505"/><circle cx="472.15" cy="939.05" r="7.1" fill="#050505"/><circle cx="559.75" cy="939.05" r="7.1" fill="#050505"/><circle cx="647.30" cy="939.05" r="7.1" fill="#050505"/><circle cx="734.85" cy="939.05" r="7.1" fill="#050505"/><circle cx="822.35" cy="939.05" r="7.1" fill="#050505"/><circle cx="909.90" cy="939.05" r="7.1" fill="#050505"/><circle cx="997.40" cy="939.05" r="7.1" fill="#050505"/><circle cx="1084.70" cy="939.05" r="7.1" fill="#050505"/><rect x="39.00" y="953.75" width="235.75" height="26.85" fill="#c0d0de"/><rect x="276.05" y="953.75" width="63.80" height="26.85" fill="#c0d0de"/><rect x="341.15" y="953.75" width="86.20" height="26.85" fill="#c0d0de"/><rect x="428.65" y="953.75" width="86.40" height="26.85" fill="#c0d0de"/><rect x="516.35" y="953.75" width="86.20" height="26.85" fill="#c0d0de"/><rect x="603.85" y="953.75" width="86.30" height="26.85" fill="#c0d0de"/><rect x="691.45" y="953.75" width="86.20" height="26.85" fill="#c0d0de"/><rect x="778.95" y="953.75" width="86.20" height="26.85" fill="#c0d0de"/><rect x="866.45" y="953.75" width="86.30" height="26.85" fill="#c0d0de"/><rect x="954.05" y="953.75" width="86.10" height="26.85" fill="#c0d0de"/><rect x="1041.45" y="953.75" width="86.55" height="26.85" fill="#c0d0de"/><polygon points="308.35,962.37 315.55,975.57 301.15,975.57" fill="#050505"/><polygon points="384.65,962.37 391.85,975.57 377.45,975.57" fill="#050505"/><polygon points="472.25,962.37 479.45,975.57 465.05,975.57" fill="#050505"/><polygon points="559.85,962.37 567.05,975.57 552.65,975.57" fill="#050505"/><polygon points="647.40,962.37 654.60,975.57 640.20,975.57" fill="#050505"/><polygon points="734.95,962.37 742.15,975.57 727.75,975.57" fill="#050505"/><polygon points="822.45,962.37 829.65,975.57 815.25,975.57" fill="#050505"/><polygon points="910.00,962.37 917.20,975.57 902.80,975.57" fill="#050505"/><polygon points="997.50,962.37 1004.70,975.57 990.30,975.57" fill="#050505"/><polygon points="1084.80,962.37 1092.00,975.57 1077.60,975.57" fill="#050505"/><rect x="39.00" y="981.90" width="235.75" height="46.85" fill="#dddddd"/><rect x="276.05" y="981.90" width="63.80" height="46.85" fill="#dddddd"/><rect x="341.15" y="981.90" width="86.20" height="46.85" fill="#dddddd"/><rect x="428.65" y="981.90" width="86.40" height="46.85" fill="#dddddd"/><rect x="516.35" y="981.90" width="86.20" height="46.85" fill="#dddddd"/><rect x="603.85" y="981.90" width="86.30" height="46.85" fill="#dddddd"/><rect x="691.45" y="981.90" width="86.20" height="46.85" fill="#dddddd"/><rect x="778.95" y="981.90" width="86.20" height="46.85" fill="#dddddd"/><rect x="866.45" y="981.90" width="86.30" height="46.85" fill="#dddddd"/><rect x="954.05" y="981.90" width="86.10" height="46.85" fill="#dddddd"/><rect x="1041.45" y="981.90" width="86.55" height="46.85" fill="#dddddd"/><polygon points="308.35,1000.52 315.55,1013.73 301.15,1013.73" fill="#050505"/><polygon points="384.65,1000.52 391.85,1013.73 377.45,1013.73" fill="#050505"/><polygon points="472.25,1000.52 479.45,1013.73 465.05,1013.73" fill="#050505"/><polygon points="559.85,1000.52 567.05,1013.73 552.65,1013.73" fill="#050505"/><polygon points="647.40,1000.52 654.60,1013.73 640.20,1013.73" fill="#050505"/><polygon points="734.95,1000.52 742.15,1013.73 727.75,1013.73" fill="#050505"/><polygon points="822.45,1000.52 829.65,1013.73 815.25,1013.73" fill="#050505"/><polygon points="910.00,1000.52 917.20,1013.73 902.80,1013.73" fill="#050505"/><polygon points="997.50,1000.52 1004.70,1013.73 990.30,1013.73" fill="#050505"/><polygon points="1084.80,1000.52 1092.00,1013.73 1077.60,1013.73" fill="#050505"/><rect x="39.00" y="1030.05" width="235.75" height="27.70" fill="#c0d0de"/><rect x="276.05" y="1030.05" width="63.80" height="27.70" fill="#c0d0de"/><rect x="341.15" y="1030.05" width="86.20" height="27.70" fill="#c0d0de"/><rect x="428.65" y="1030.05" width="86.40" height="27.70" fill="#c0d0de"/><rect x="516.35" y="1030.05" width="86.20" height="27.70" fill="#c0d0de"/><rect x="603.85" y="1030.05" width="86.30" height="27.70" fill="#c0d0de"/><rect x="691.45" y="1030.05" width="86.20" height="27.70" fill="#c0d0de"/><rect x="778.95" y="1030.05" width="86.20" height="27.70" fill="#c0d0de"/><rect x="866.45" y="1030.05" width="86.30" height="27.70" fill="#c0d0de"/><rect x="954.05" y="1030.05" width="86.10" height="27.70" fill="#c0d0de"/><rect x="1041.45" y="1030.05" width="86.55" height="27.70" fill="#c0d0de"/><polygon points="308.35,1039.10 315.55,1052.30 301.15,1052.30" fill="#050505"/><polygon points="384.65,1039.10 391.85,1052.30 377.45,1052.30" fill="#050505"/><polygon points="472.25,1039.10 479.45,1052.30 465.05,1052.30" fill="#050505"/><polygon points="559.85,1039.10 567.05,1052.30 552.65,1052.30" fill="#050505"/><polygon points="647.40,1039.10 654.60,1052.30 640.20,1052.30" fill="#050505"/><polygon points="734.95,1039.10 742.15,1052.30 727.75,1052.30" fill="#050505"/><polygon points="822.45,1039.10 829.65,1052.30 815.25,1052.30" fill="#050505"/><polygon points="910.00,1039.10 917.20,1052.30 902.80,1052.30" fill="#050505"/><polygon points="997.50,1039.10 1004.70,1052.30 990.30,1052.30" fill="#050505"/><polygon points="1084.80,1039.10 1092.00,1052.30 1077.60,1052.30" fill="#050505"/><rect x="39.00" y="1059.05" width="235.75" height="27.80" fill="#dddddd"/><rect x="276.05" y="1059.05" width="63.80" height="27.80" fill="#dddddd"/><rect x="341.15" y="1059.05" width="86.20" height="27.80" fill="#dddddd"/><rect x="428.65" y="1059.05" width="86.40" height="27.80" fill="#dddddd"/><rect x="516.35" y="1059.05" width="86.20" height="27.80" fill="#dddddd"/><rect x="603.85" y="1059.05" width="86.30" height="27.80" fill="#dddddd"/><rect x="691.45" y="1059.05" width="86.20" height="27.80" fill="#dddddd"/><rect x="778.95" y="1059.05" width="86.20" height="27.80" fill="#dddddd"/><rect x="866.45" y="1059.05" width="86.30" height="27.80" fill="#dddddd"/><rect x="954.05" y="1059.05" width="86.10" height="27.80" fill="#dddddd"/><rect x="1041.45" y="1059.05" width="86.55" height="27.80" fill="#dddddd"/><circle cx="308.25" cy="1075.35" r="7.1" fill="#050505"/><circle cx="384.55" cy="1075.35" r="7.1" fill="#050505"/><circle cx="472.15" cy="1075.35" r="7.1" fill="#050505"/><circle cx="559.75" cy="1075.35" r="7.1" fill="#050505"/><circle cx="647.30" cy="1075.35" r="7.1" fill="#050505"/><circle cx="734.85" cy="1075.35" r="7.1" fill="#050505"/><circle cx="822.35" cy="1075.35" r="7.1" fill="#050505"/><circle cx="909.90" cy="1075.35" r="7.1" fill="#050505"/><circle cx="997.40" cy="1075.35" r="7.1" fill="#050505"/><circle cx="1084.70" cy="1075.35" r="7.1" fill="#050505"/><rect x="39.00" y="1088.15" width="235.75" height="27.80" fill="#c0d0de"/><rect x="276.05" y="1088.15" width="63.80" height="27.80" fill="#c0d0de"/><rect x="341.15" y="1088.15" width="86.20" height="27.80" fill="#c0d0de"/><rect x="428.65" y="1088.15" width="86.40" height="27.80" fill="#c0d0de"/><rect x="516.35" y="1088.15" width="86.20" height="27.80" fill="#c0d0de"/><rect x="603.85" y="1088.15" width="86.30" height="27.80" fill="#c0d0de"/><rect x="691.45" y="1088.15" width="86.20" height="27.80" fill="#c0d0de"/><rect x="778.95" y="1088.15" width="86.20" height="27.80" fill="#c0d0de"/><rect x="866.45" y="1088.15" width="86.30" height="27.80" fill="#c0d0de"/><rect x="954.05" y="1088.15" width="86.10" height="27.80" fill="#c0d0de"/><rect x="1041.45" y="1088.15" width="86.55" height="27.80" fill="#c0d0de"/><circle cx="308.25" cy="1104.45" r="7.1" fill="#050505"/><circle cx="384.55" cy="1104.45" r="7.1" fill="#050505"/><circle cx="472.15" cy="1104.45" r="7.1" fill="#050505"/><circle cx="559.75" cy="1104.45" r="7.1" fill="#050505"/><circle cx="647.30" cy="1104.45" r="7.1" fill="#050505"/><circle cx="734.85" cy="1104.45" r="7.1" fill="#050505"/><circle cx="822.35" cy="1104.45" r="7.1" fill="#050505"/><circle cx="909.90" cy="1104.45" r="7.1" fill="#050505"/><circle cx="997.40" cy="1104.45" r="7.1" fill="#050505"/><circle cx="1084.70" cy="1104.45" r="7.1" fill="#050505"/><rect x="39.00" y="1117.25" width="235.75" height="27.70" fill="#dddddd"/><rect x="276.05" y="1117.25" width="63.80" height="27.70" fill="#dddddd"/><rect x="341.15" y="1117.25" width="86.20" height="27.70" fill="#dddddd"/><rect x="428.65" y="1117.25" width="86.40" height="27.70" fill="#dddddd"/><rect x="516.35" y="1117.25" width="86.20" height="27.70" fill="#dddddd"/><rect x="603.85" y="1117.25" width="86.30" height="27.70" fill="#dddddd"/><rect x="691.45" y="1117.25" width="86.20" height="27.70" fill="#dddddd"/><rect x="778.95" y="1117.25" width="86.20" height="27.70" fill="#dddddd"/><rect x="866.45" y="1117.25" width="86.30" height="27.70" fill="#dddddd"/><rect x="954.05" y="1117.25" width="86.10" height="27.70" fill="#dddddd"/><rect x="1041.45" y="1117.25" width="86.55" height="27.70" fill="#dddddd"/><circle cx="308.25" cy="1133.50" r="7.1" fill="#050505"/><circle cx="384.55" cy="1133.50" r="7.1" fill="#050505"/><circle cx="472.15" cy="1133.50" r="7.1" fill="#050505"/><circle cx="559.75" cy="1133.50" r="7.1" fill="#050505"/><circle cx="647.30" cy="1133.50" r="7.1" fill="#050505"/><circle cx="734.85" cy="1133.50" r="7.1" fill="#050505"/><circle cx="822.35" cy="1133.50" r="7.1" fill="#050505"/><circle cx="909.90" cy="1133.50" r="7.1" fill="#050505"/><circle cx="997.40" cy="1133.50" r="7.1" fill="#050505"/><circle cx="1084.70" cy="1133.50" r="7.1" fill="#050505"/><rect x="39.00" y="1146.25" width="235.75" height="27.85" fill="#c0d0de"/><rect x="276.05" y="1146.25" width="63.80" height="27.85" fill="#c0d0de"/><rect x="341.15" y="1146.25" width="86.20" height="27.85" fill="#c0d0de"/><rect x="428.65" y="1146.25" width="86.40" height="27.85" fill="#c0d0de"/><rect x="516.35" y="1146.25" width="86.20" height="27.85" fill="#c0d0de"/><rect x="603.85" y="1146.25" width="86.30" height="27.85" fill="#c0d0de"/><rect x="691.45" y="1146.25" width="86.20" height="27.85" fill="#c0d0de"/><rect x="778.95" y="1146.25" width="86.20" height="27.85" fill="#c0d0de"/><rect x="866.45" y="1146.25" width="86.30" height="27.85" fill="#c0d0de"/><rect x="954.05" y="1146.25" width="86.10" height="27.85" fill="#c0d0de"/><rect x="1041.45" y="1146.25" width="86.55" height="27.85" fill="#c0d0de"/><circle cx="308.25" cy="1162.58" r="7.1" fill="#050505"/><circle cx="384.55" cy="1162.58" r="7.1" fill="#050505"/><circle cx="472.15" cy="1162.58" r="7.1" fill="#050505"/><circle cx="559.75" cy="1162.58" r="7.1" fill="#050505"/><circle cx="647.30" cy="1162.58" r="7.1" fill="#050505"/><circle cx="734.85" cy="1162.58" r="7.1" fill="#050505"/><circle cx="822.35" cy="1162.58" r="7.1" fill="#050505"/><circle cx="909.90" cy="1162.58" r="7.1" fill="#050505"/><circle cx="997.40" cy="1162.58" r="7.1" fill="#050505"/><circle cx="1084.70" cy="1162.58" r="7.1" fill="#050505"/><rect x="39.00" y="1175.40" width="235.75" height="27.45" fill="#dddddd"/><rect x="276.05" y="1175.40" width="63.80" height="27.45" fill="#dddddd"/><rect x="341.15" y="1175.40" width="86.20" height="27.45" fill="#dddddd"/><rect x="428.65" y="1175.40" width="86.40" height="27.45" fill="#dddddd"/><rect x="516.35" y="1175.40" width="86.20" height="27.45" fill="#dddddd"/><rect x="603.85" y="1175.40" width="86.30" height="27.45" fill="#dddddd"/><rect x="691.45" y="1175.40" width="86.20" height="27.45" fill="#dddddd"/><rect x="778.95" y="1175.40" width="86.20" height="27.45" fill="#dddddd"/><rect x="866.45" y="1175.40" width="86.30" height="27.45" fill="#dddddd"/><rect x="954.05" y="1175.40" width="86.10" height="27.45" fill="#dddddd"/><rect x="1041.45" y="1175.40" width="86.55" height="27.45" fill="#dddddd"/><circle cx="308.25" cy="1191.53" r="7.1" fill="#050505"/><circle cx="384.55" cy="1191.53" r="7.1" fill="#050505"/><circle cx="472.15" cy="1191.53" r="7.1" fill="#050505"/><circle cx="559.75" cy="1191.53" r="7.1" fill="#050505"/><circle cx="647.30" cy="1191.53" r="7.1" fill="#050505"/><circle cx="734.85" cy="1191.53" r="7.1" fill="#050505"/><circle cx="822.35" cy="1191.53" r="7.1" fill="#050505"/><circle cx="909.90" cy="1191.53" r="7.1" fill="#050505"/><circle cx="997.40" cy="1191.53" r="7.1" fill="#050505"/><circle cx="1084.70" cy="1191.53" r="7.1" fill="#050505"/><rect x="39.00" y="1204.15" width="235.75" height="27.70" fill="#c0d0de"/><rect x="276.05" y="1204.15" width="63.80" height="27.70" fill="#c0d0de"/><rect x="341.15" y="1204.15" width="86.20" height="27.70" fill="#c0d0de"/><rect x="428.65" y="1204.15" width="86.40" height="27.70" fill="#c0d0de"/><rect x="516.35" y="1204.15" width="86.20" height="27.70" fill="#c0d0de"/><rect x="603.85" y="1204.15" width="86.30" height="27.70" fill="#c0d0de"/><rect x="691.45" y="1204.15" width="86.20" height="27.70" fill="#c0d0de"/><rect x="778.95" y="1204.15" width="86.20" height="27.70" fill="#c0d0de"/><rect x="866.45" y="1204.15" width="86.30" height="27.70" fill="#c0d0de"/><rect x="954.05" y="1204.15" width="86.10" height="27.70" fill="#c0d0de"/><rect x="1041.45" y="1204.15" width="86.55" height="27.70" fill="#c0d0de"/><polygon points="308.35,1213.20 315.55,1226.40 301.15,1226.40" fill="#050505"/><polygon points="384.65,1213.20 391.85,1226.40 377.45,1226.40" fill="#050505"/><polygon points="472.25,1213.20 479.45,1226.40 465.05,1226.40" fill="#050505"/><polygon points="559.85,1213.20 567.05,1226.40 552.65,1226.40" fill="#050505"/><polygon points="647.40,1213.20 654.60,1226.40 640.20,1226.40" fill="#050505"/><polygon points="734.95,1213.20 742.15,1226.40 727.75,1226.40" fill="#050505"/><polygon points="822.45,1213.20 829.65,1226.40 815.25,1226.40" fill="#050505"/><polygon points="910.00,1213.20 917.20,1226.40 902.80,1226.40" fill="#050505"/><polygon points="997.50,1213.20 1004.70,1226.40 990.30,1226.40" fill="#050505"/><polygon points="1084.80,1213.20 1092.00,1226.40 1077.60,1226.40" fill="#050505"/><rect x="39.00" y="1233.15" width="235.75" height="28.45" fill="#dddddd"/><rect x="276.05" y="1233.15" width="63.80" height="28.45" fill="#dddddd"/><rect x="341.15" y="1233.15" width="86.20" height="28.45" fill="#dddddd"/><rect x="428.65" y="1233.15" width="86.40" height="28.45" fill="#dddddd"/><rect x="516.35" y="1233.15" width="86.20" height="28.45" fill="#dddddd"/><rect x="603.85" y="1233.15" width="86.30" height="28.45" fill="#dddddd"/><rect x="691.45" y="1233.15" width="86.20" height="28.45" fill="#dddddd"/><rect x="778.95" y="1233.15" width="86.20" height="28.45" fill="#dddddd"/><rect x="866.45" y="1233.15" width="86.30" height="28.45" fill="#dddddd"/><rect x="954.05" y="1233.15" width="86.10" height="28.45" fill="#dddddd"/><rect x="1041.45" y="1233.15" width="86.55" height="28.45" fill="#dddddd"/><circle cx="308.25" cy="1249.78" r="7.1" fill="#050505"/><circle cx="384.55" cy="1249.78" r="7.1" fill="#050505"/><circle cx="472.15" cy="1249.78" r="7.1" fill="#050505"/><circle cx="559.75" cy="1249.78" r="7.1" fill="#050505"/><circle cx="647.30" cy="1249.78" r="7.1" fill="#050505"/><rect x="39.00" y="1262.90" width="235.75" height="27.45" fill="#c0d0de"/><rect x="276.05" y="1262.90" width="63.80" height="27.45" fill="#c0d0de"/><rect x="341.15" y="1262.90" width="86.20" height="27.45" fill="#c0d0de"/><rect x="428.65" y="1262.90" width="86.40" height="27.45" fill="#c0d0de"/><rect x="516.35" y="1262.90" width="86.20" height="27.45" fill="#c0d0de"/><rect x="603.85" y="1262.90" width="86.30" height="27.45" fill="#c0d0de"/><rect x="691.45" y="1262.90" width="86.20" height="27.45" fill="#c0d0de"/><rect x="778.95" y="1262.90" width="86.20" height="27.45" fill="#c0d0de"/><rect x="866.45" y="1262.90" width="86.30" height="27.45" fill="#c0d0de"/><rect x="954.05" y="1262.90" width="86.10" height="27.45" fill="#c0d0de"/><rect x="1041.45" y="1262.90" width="86.55" height="27.45" fill="#c0d0de"/><circle cx="734.85" cy="1279.03" r="7.1" fill="#050505"/><circle cx="822.35" cy="1279.03" r="7.1" fill="#050505"/><circle cx="909.90" cy="1279.03" r="7.1" fill="#050505"/><circle cx="997.40" cy="1279.03" r="7.1" fill="#050505"/><circle cx="1084.70" cy="1279.03" r="7.1" fill="#050505"/><rect x="39.00" y="1291.65" width="235.75" height="27.70" fill="#dddddd"/><rect x="276.05" y="1291.65" width="63.80" height="27.70" fill="#dddddd"/><rect x="341.15" y="1291.65" width="86.20" height="27.70" fill="#dddddd"/><rect x="428.65" y="1291.65" width="86.40" height="27.70" fill="#dddddd"/><rect x="516.35" y="1291.65" width="86.20" height="27.70" fill="#dddddd"/><rect x="603.85" y="1291.65" width="86.30" height="27.70" fill="#dddddd"/><rect x="691.45" y="1291.65" width="86.20" height="27.70" fill="#dddddd"/><rect x="778.95" y="1291.65" width="86.20" height="27.70" fill="#dddddd"/><rect x="866.45" y="1291.65" width="86.30" height="27.70" fill="#dddddd"/><rect x="954.05" y="1291.65" width="86.10" height="27.70" fill="#dddddd"/><rect x="1041.45" y="1291.65" width="86.55" height="27.70" fill="#dddddd"/><circle cx="308.25" cy="1307.90" r="7.1" fill="#050505"/><circle cx="384.55" cy="1307.90" r="7.1" fill="#050505"/><circle cx="472.15" cy="1307.90" r="7.1" fill="#050505"/><circle cx="559.75" cy="1307.90" r="7.1" fill="#050505"/><circle cx="647.30" cy="1307.90" r="7.1" fill="#050505"/><circle cx="734.85" cy="1307.90" r="7.1" fill="#050505"/><circle cx="822.35" cy="1307.90" r="7.1" fill="#050505"/><circle cx="909.90" cy="1307.90" r="7.1" fill="#050505"/><circle cx="997.40" cy="1307.90" r="7.1" fill="#050505"/><circle cx="1084.70" cy="1307.90" r="7.1" fill="#050505"/><rect x="39.00" y="1320.65" width="235.75" height="27.70" fill="#c0d0de"/><rect x="276.05" y="1320.65" width="63.80" height="27.70" fill="#c0d0de"/><rect x="341.15" y="1320.65" width="86.20" height="27.70" fill="#c0d0de"/><rect x="428.65" y="1320.65" width="86.40" height="27.70" fill="#c0d0de"/><rect x="516.35" y="1320.65" width="86.20" height="27.70" fill="#c0d0de"/><rect x="603.85" y="1320.65" width="86.30" height="27.70" fill="#c0d0de"/><rect x="691.45" y="1320.65" width="86.20" height="27.70" fill="#c0d0de"/><rect x="778.95" y="1320.65" width="86.20" height="27.70" fill="#c0d0de"/><rect x="866.45" y="1320.65" width="86.30" height="27.70" fill="#c0d0de"/><rect x="954.05" y="1320.65" width="86.10" height="27.70" fill="#c0d0de"/><rect x="1041.45" y="1320.65" width="86.55" height="27.70" fill="#c0d0de"/><circle cx="308.25" cy="1336.90" r="7.1" fill="#050505"/><circle cx="384.55" cy="1336.90" r="7.1" fill="#050505"/><circle cx="472.15" cy="1336.90" r="7.1" fill="#050505"/><circle cx="559.75" cy="1336.90" r="7.1" fill="#050505"/><circle cx="647.30" cy="1336.90" r="7.1" fill="#050505"/><circle cx="734.85" cy="1336.90" r="7.1" fill="#050505"/><circle cx="822.35" cy="1336.90" r="7.1" fill="#050505"/><circle cx="909.90" cy="1336.90" r="7.1" fill="#050505"/><circle cx="997.40" cy="1336.90" r="7.1" fill="#050505"/><circle cx="1084.70" cy="1336.90" r="7.1" fill="#050505"/><rect x="39.00" y="1349.65" width="235.75" height="27.45" fill="#dddddd"/><rect x="276.05" y="1349.65" width="63.80" height="27.45" fill="#dddddd"/><rect x="341.15" y="1349.65" width="86.20" height="27.45" fill="#dddddd"/><rect x="428.65" y="1349.65" width="86.40" height="27.45" fill="#dddddd"/><rect x="516.35" y="1349.65" width="86.20" height="27.45" fill="#dddddd"/><rect x="603.85" y="1349.65" width="86.30" height="27.45" fill="#dddddd"/><rect x="691.45" y="1349.65" width="86.20" height="27.45" fill="#dddddd"/><rect x="778.95" y="1349.65" width="86.20" height="27.45" fill="#dddddd"/><rect x="866.45" y="1349.65" width="86.30" height="27.45" fill="#dddddd"/><rect x="954.05" y="1349.65" width="86.10" height="27.45" fill="#dddddd"/><rect x="1041.45" y="1349.65" width="86.55" height="27.45" fill="#dddddd"/><circle cx="308.25" cy="1365.78" r="7.1" fill="#050505"/><circle cx="384.55" cy="1365.78" r="7.1" fill="#050505"/><circle cx="472.15" cy="1365.78" r="7.1" fill="#050505"/><circle cx="559.75" cy="1365.78" r="7.1" fill="#050505"/><circle cx="647.30" cy="1365.78" r="7.1" fill="#050505"/><circle cx="734.85" cy="1365.78" r="7.1" fill="#050505"/><circle cx="822.35" cy="1365.78" r="7.1" fill="#050505"/><circle cx="909.90" cy="1365.78" r="7.1" fill="#050505"/><circle cx="997.40" cy="1365.78" r="7.1" fill="#050505"/><circle cx="1084.70" cy="1365.78" r="7.1" fill="#050505"/><rect x="39.00" y="1378.40" width="235.75" height="27.85" fill="#c0d0de"/><rect x="276.05" y="1378.40" width="63.80" height="27.85" fill="#c0d0de"/><rect x="341.15" y="1378.40" width="86.20" height="27.85" fill="#c0d0de"/><rect x="428.65" y="1378.40" width="86.40" height="27.85" fill="#c0d0de"/><rect x="516.35" y="1378.40" width="86.20" height="27.85" fill="#c0d0de"/><rect x="603.85" y="1378.40" width="86.30" height="27.85" fill="#c0d0de"/><rect x="691.45" y="1378.40" width="86.20" height="27.85" fill="#c0d0de"/><rect x="778.95" y="1378.40" width="86.20" height="27.85" fill="#c0d0de"/><rect x="866.45" y="1378.40" width="86.30" height="27.85" fill="#c0d0de"/><rect x="954.05" y="1378.40" width="86.10" height="27.85" fill="#c0d0de"/><rect x="1041.45" y="1378.40" width="86.55" height="27.85" fill="#c0d0de"/><polygon points="308.35,1387.53 315.55,1400.72 301.15,1400.72" fill="#050505"/><polygon points="384.65,1387.53 391.85,1400.72 377.45,1400.72" fill="#050505"/><polygon points="472.25,1387.53 479.45,1400.72 465.05,1400.72" fill="#050505"/><polygon points="559.85,1387.53 567.05,1400.72 552.65,1400.72" fill="#050505"/><polygon points="647.40,1387.53 654.60,1400.72 640.20,1400.72" fill="#050505"/><polygon points="734.95,1387.53 742.15,1400.72 727.75,1400.72" fill="#050505"/><polygon points="822.45,1387.53 829.65,1400.72 815.25,1400.72" fill="#050505"/><polygon points="910.00,1387.53 917.20,1400.72 902.80,1400.72" fill="#050505"/><polygon points="997.50,1387.53 1004.70,1400.72 990.30,1400.72" fill="#050505"/><polygon points="1084.80,1387.53 1092.00,1400.72 1077.60,1400.72" fill="#050505"/><rect x="39.00" y="1407.55" width="235.75" height="46.20" fill="#dddddd"/><rect x="276.05" y="1407.55" width="63.80" height="46.20" fill="#dddddd"/><rect x="341.15" y="1407.55" width="86.20" height="46.20" fill="#dddddd"/><rect x="428.65" y="1407.55" width="86.40" height="46.20" fill="#dddddd"/><rect x="516.35" y="1407.55" width="86.20" height="46.20" fill="#dddddd"/><rect x="603.85" y="1407.55" width="86.30" height="46.20" fill="#dddddd"/><rect x="691.45" y="1407.55" width="86.20" height="46.20" fill="#dddddd"/><rect x="778.95" y="1407.55" width="86.20" height="46.20" fill="#dddddd"/><rect x="866.45" y="1407.55" width="86.30" height="46.20" fill="#dddddd"/><rect x="954.05" y="1407.55" width="86.10" height="46.20" fill="#dddddd"/><rect x="1041.45" y="1407.55" width="86.55" height="46.20" fill="#dddddd"/><polygon points="308.35,1425.85 315.55,1439.05 301.15,1439.05" fill="#050505"/><polygon points="384.65,1425.85 391.85,1439.05 377.45,1439.05" fill="#050505"/><polygon points="472.25,1425.85 479.45,1439.05 465.05,1439.05" fill="#050505"/><polygon points="559.85,1425.85 567.05,1439.05 552.65,1439.05" fill="#050505"/><polygon points="647.40,1425.85 654.60,1439.05 640.20,1439.05" fill="#050505"/><polygon points="734.95,1425.85 742.15,1439.05 727.75,1439.05" fill="#050505"/><polygon points="822.45,1425.85 829.65,1439.05 815.25,1439.05" fill="#050505"/><polygon points="910.00,1425.85 917.20,1439.05 902.80,1439.05" fill="#050505"/><polygon points="997.50,1425.85 1004.70,1439.05 990.30,1439.05" fill="#050505"/><polygon points="1084.80,1425.85 1092.00,1439.05 1077.60,1439.05" fill="#050505"/><rect x="39.00" y="1455.05" width="235.75" height="46.80" fill="#c0d0de"/><rect x="276.05" y="1455.05" width="63.80" height="46.80" fill="#c0d0de"/><rect x="341.15" y="1455.05" width="86.20" height="46.80" fill="#c0d0de"/><rect x="428.65" y="1455.05" width="86.40" height="46.80" fill="#c0d0de"/><rect x="516.35" y="1455.05" width="86.20" height="46.80" fill="#c0d0de"/><rect x="603.85" y="1455.05" width="86.30" height="46.80" fill="#c0d0de"/><rect x="691.45" y="1455.05" width="86.20" height="46.80" fill="#c0d0de"/><rect x="778.95" y="1455.05" width="86.20" height="46.80" fill="#c0d0de"/><rect x="866.45" y="1455.05" width="86.30" height="46.80" fill="#c0d0de"/><rect x="954.05" y="1455.05" width="86.10" height="46.80" fill="#c0d0de"/><rect x="1041.45" y="1455.05" width="86.55" height="46.80" fill="#c0d0de"/><polygon points="308.35,1473.65 315.55,1486.85 301.15,1486.85" fill="#050505"/><polygon points="384.65,1473.65 391.85,1486.85 377.45,1486.85" fill="#050505"/><polygon points="472.25,1473.65 479.45,1486.85 465.05,1486.85" fill="#050505"/><polygon points="559.85,1473.65 567.05,1486.85 552.65,1486.85" fill="#050505"/><polygon points="647.40,1473.65 654.60,1486.85 640.20,1486.85" fill="#050505"/><polygon points="734.95,1473.65 742.15,1486.85 727.75,1486.85" fill="#050505"/><polygon points="822.45,1473.65 829.65,1486.85 815.25,1486.85" fill="#050505"/><polygon points="910.00,1473.65 917.20,1486.85 902.80,1486.85" fill="#050505"/><polygon points="997.50,1473.65 1004.70,1486.85 990.30,1486.85" fill="#050505"/><polygon points="1084.80,1473.65 1092.00,1486.85 1077.60,1486.85" fill="#050505"/><rect x="39.00" y="1503.15" width="235.75" height="45.85" fill="#dddddd"/><rect x="276.05" y="1503.15" width="63.80" height="45.85" fill="#dddddd"/><rect x="341.15" y="1503.15" width="86.20" height="45.85" fill="#dddddd"/><rect x="428.65" y="1503.15" width="86.40" height="45.85" fill="#dddddd"/><rect x="516.35" y="1503.15" width="86.20" height="45.85" fill="#dddddd"/><rect x="603.85" y="1503.15" width="86.30" height="45.85" fill="#dddddd"/><rect x="691.45" y="1503.15" width="86.20" height="45.85" fill="#dddddd"/><rect x="778.95" y="1503.15" width="86.20" height="45.85" fill="#dddddd"/><rect x="866.45" y="1503.15" width="86.30" height="45.85" fill="#dddddd"/><rect x="954.05" y="1503.15" width="86.10" height="45.85" fill="#dddddd"/><rect x="1041.45" y="1503.15" width="86.55" height="45.85" fill="#dddddd"/><polygon points="308.35,1520.95 315.55,1534.15 301.15,1534.15" fill="#050505"/><polygon points="384.65,1520.95 391.85,1534.15 377.45,1534.15" fill="#050505"/><polygon points="472.25,1520.95 479.45,1534.15 465.05,1534.15" fill="#050505"/><polygon points="559.85,1520.95 567.05,1534.15 552.65,1534.15" fill="#050505"/><polygon points="647.40,1520.95 654.60,1534.15 640.20,1534.15" fill="#050505"/><polygon points="734.95,1520.95 742.15,1534.15 727.75,1534.15" fill="#050505"/><polygon points="822.45,1520.95 829.65,1534.15 815.25,1534.15" fill="#050505"/><polygon points="910.00,1520.95 917.20,1534.15 902.80,1534.15" fill="#050505"/><polygon points="997.50,1520.95 1004.70,1534.15 990.30,1534.15" fill="#050505"/><polygon points="1084.80,1520.95 1092.00,1534.15 1077.60,1534.15" fill="#050505"/></svg>
<div class="t" style="left:39.00px;width:236.90px;top:110.50px;color:#fff;font-size:17px;line-height:24px"><span class="k">机组配件</span><span class="l" style="margin-right:-3.53px"> Parts</span></div>
<div class="t" style="left:276.90px;width:852.10px;top:94.83px;color:#fff;font-size:17px;line-height:24px"><span class="l" style="margin-right:-4.72px">BUW-B </span><span class="k">机组型号</span><span class="l" style="margin-right:-9.09px">  Model of Unit</span></div>
<div class="t" style="left:276.70px;width:65.60px;top:127.62px;color:#fff;font-size:17px;line-height:24px"><span class="l" style="margin-right:-2.61px">02M</span></div>
<div class="t" style="left:342.30px;width:65.60px;top:127.62px;color:#fff;font-size:17px;line-height:24px"><span class="l" style="margin-right:-2.61px">03M</span></div>
<div class="t" style="left:407.89px;width:65.60px;top:127.62px;color:#fff;font-size:17px;line-height:24px"><span class="l" style="margin-right:-2.61px">04M</span></div>
<div class="t" style="left:473.49px;width:65.60px;top:127.62px;color:#fff;font-size:17px;line-height:24px"><span class="l" style="margin-right:-2.61px">05M</span></div>
<div class="t" style="left:539.09px;width:65.60px;top:127.62px;color:#fff;font-size:17px;line-height:24px"><span class="l" style="margin-right:-2.61px">06M</span></div>
<div class="t" style="left:604.68px;width:65.60px;top:127.62px;color:#fff;font-size:17px;line-height:24px"><span class="l" style="margin-right:-2.61px">08M</span></div>
<div class="t" style="left:670.28px;width:65.60px;top:127.62px;color:#fff;font-size:17px;line-height:24px"><span class="l" style="margin-right:-2.61px">10M</span></div>
<div class="t" style="left:735.88px;width:65.60px;top:127.62px;color:#fff;font-size:17px;line-height:24px"><span class="l" style="margin-right:-2.61px">12M</span></div>
<div class="t" style="left:801.48px;width:65.60px;top:127.62px;color:#fff;font-size:17px;line-height:24px"><span class="l" style="margin-right:-2.61px">13M</span></div>
<div class="t" style="left:867.07px;width:65.60px;top:127.62px;color:#fff;font-size:17px;line-height:24px"><span class="l" style="margin-right:-2.61px">15M</span></div>
<div class="t" style="left:932.67px;width:65.60px;top:127.62px;color:#fff;font-size:17px;line-height:24px"><span class="l" style="margin-right:-2.61px">20M</span></div>
<div class="t" style="left:998.27px;width:65.60px;top:127.62px;color:#fff;font-size:17px;line-height:24px"><span class="l" style="margin-right:-2.61px">22M</span></div>
<div class="t" style="left:1063.86px;width:64.94px;top:127.62px;color:#fff;font-size:17px;line-height:24px"><span class="l" style="margin-right:-2.61px">25M</span></div>
<div class="t" style="left:41.00px;width:236.90px;top:161.05px;color:#1c1c1c;font-size:17px;line-height:24px"><span class="k">压缩机</span><span class="l" style="margin-right:-7.99px"> Compressor</span></div>
<div class="t" style="left:41.00px;width:236.90px;top:191.75px;color:#1c1c1c;font-size:17px;line-height:24px"><span class="k">油加热带</span><span class="l" style="margin-right:-6.62px"> Oil Heater</span></div>
<div class="t" style="left:39.00px;width:236.90px;top:217.90px;color:#1c1c1c;font-size:17px;line-height:24px"><span class="k">排气减震管</span></div>
<div class="t" style="left:43.50px;width:236.90px;top:241.60px;color:#1c1c1c;font-size:17px;line-height:24px"><span class="l" style="margin-right:-17.71px">Discharge Vibration Damper</span></div>
<div class="t" style="left:41.00px;width:236.90px;top:269.10px;color:#1c1c1c;font-size:17px;line-height:24px"><span class="k">油分离器</span><span class="l" style="margin-right:-8.61px"> Oil Separator</span></div>
<div class="t" style="left:41.00px;width:236.90px;top:298.85px;color:#1c1c1c;font-size:17px;line-height:24px"><span class="k">冷凝器</span><span class="l" style="margin-right:-7.55px">  Condensor</span></div>
<div class="t" style="left:41.00px;width:236.90px;top:328.20px;color:#1c1c1c;font-size:17px;line-height:24px"><span class="l" style="margin-right:-1.98px">AC </span><span class="k">电机</span><span class="l" style="margin-right:-6.34px">  AC Motor</span></div>
<div class="t" style="left:41.00px;width:236.90px;top:357.50px;color:#1c1c1c;font-size:17px;line-height:24px"><span class="k">储液器</span><span class="l" style="margin-right:-5.98px">  Receiver</span></div>
<div class="t" style="left:41.00px;width:236.90px;top:386.75px;color:#1c1c1c;font-size:17px;line-height:24px"><span class="k">干燥过滤器</span><span class="l" style="margin-right:-7.89px"> Liquid Filter</span></div>
<div class="t" style="left:41.00px;width:236.90px;top:416.25px;color:#1c1c1c;font-size:17px;line-height:24px"><span class="k">视液镜</span><span class="l" style="margin-right:-7.26px"> Sight Glass</span></div>
<div class="t" style="left:41.00px;width:236.90px;top:445.75px;color:#1c1c1c;font-size:17px;line-height:24px"><span class="k">电磁阀</span><span class="l" style="margin-right:-9.61px"> Solenoid Valve</span></div>
<div class="t" style="left:41.00px;width:236.90px;top:475.15px;color:#1c1c1c;font-size:17px;line-height:24px"><span class="k">高压保护</span><span class="l" style="margin-right:-6.75px"> HP Switch</span></div>
<div class="t" style="left:41.00px;width:236.90px;top:504.70px;color:#1c1c1c;font-size:17px;line-height:24px"><span class="k">低压保护</span><span class="l" style="margin-right:-6.50px"> LP Switch</span></div>
<div class="t" style="left:41.00px;width:236.90px;top:533.97px;color:#1c1c1c;font-size:17px;line-height:24px"><span class="k">高</span><span class="l" style="margin-right:-0.53px">/</span><span class="k">低压表</span><span class="l" style="margin-right:-8.51px"> HP/LP Gauge</span></div>
<div class="t" style="left:41.00px;width:236.90px;top:563.05px;color:#1c1c1c;font-size:17px;line-height:24px"><span class="k">气液分离器</span><span class="l" style="margin-right:-8.37px"> Accumulator</span></div>
<div class="t" style="left:39.00px;width:236.90px;top:588.65px;color:#1c1c1c;font-size:17px;line-height:24px"><span class="k">供液管接口阀</span></div>
<div class="t" style="left:40.80px;width:236.90px;top:613.15px;color:#1c1c1c;font-size:17px;line-height:24px"><span class="l" style="margin-right:-10.66px">Liquid Line Valve</span></div>
<div class="t" style="left:39.00px;width:236.90px;top:637.40px;color:#1c1c1c;font-size:17px;line-height:24px"><span class="k">回气管接口阀</span></div>
<div class="t" style="left:41.50px;width:236.90px;top:660.80px;color:#1c1c1c;font-size:17px;line-height:24px"><span class="l" style="margin-right:-11.52px">Suction Line Valve</span></div>
<div class="t" style="left:39.00px;width:236.90px;top:685.15px;color:#1c1c1c;font-size:17px;line-height:24px"><span class="k">机组电控</span></div>
<div class="t" style="left:43.30px;width:236.90px;top:709.05px;color:#1c1c1c;font-size:17px;line-height:24px"><span class="l" style="margin-right:-14.87px">Electric Control for Unit</span></div>
<div class="t" style="left:39.00px;width:236.40px;top:861.50px;color:#fff;font-size:17px;line-height:24px"><span class="k">机组配件</span><span class="l" style="margin-right:-3.53px"> Parts</span></div>
<div class="t" style="left:277.50px;width:852.60px;top:830.85px;color:#fff;font-size:17px;line-height:24px"><span class="l" style="margin-right:-4.72px">BUW-B </span><span class="k">机组型号</span><span class="l" style="margin-right:-8.79px"> Model of Unit</span></div>
<div class="t" style="left:277.90px;width:415.40px;top:861.90px;color:#fff;font-size:17px;line-height:24px"><span class="k">带喷液</span><span class="l" style="margin-right:-10.29px">  With DTC Spray</span></div>
<div class="t" style="left:692.80px;width:437.20px;top:861.90px;color:#fff;font-size:17px;line-height:24px"><span class="k">带喷气增焓</span><span class="l" style="margin-right:-5.80px">  With EVI</span></div>
<div class="t" style="left:276.20px;width:65.10px;top:893.15px;color:#fff;font-size:17px;line-height:24px"><span class="l" style="margin-right:-2.25px">02L</span></div>
<div class="t" style="left:341.30px;width:87.50px;top:893.15px;color:#fff;font-size:17px;line-height:24px"><span class="l" style="margin-right:-2.25px">03L</span></div>
<div class="t" style="left:428.80px;width:87.70px;top:893.15px;color:#fff;font-size:17px;line-height:24px"><span class="l" style="margin-right:-2.25px">05L</span></div>
<div class="t" style="left:516.50px;width:87.50px;top:893.15px;color:#fff;font-size:17px;line-height:24px"><span class="l" style="margin-right:-2.25px">06L</span></div>
<div class="t" style="left:604.00px;width:87.60px;top:893.15px;color:#fff;font-size:17px;line-height:24px"><span class="l" style="margin-right:-2.25px">07L</span></div>
<div class="t" style="left:691.60px;width:87.50px;top:893.15px;color:#fff;font-size:17px;line-height:24px"><span class="l" style="margin-right:-2.25px">06L</span></div>
<div class="t" style="left:779.10px;width:87.50px;top:893.15px;color:#fff;font-size:17px;line-height:24px"><span class="l" style="margin-right:-2.25px">10L</span></div>
<div class="t" style="left:866.60px;width:87.60px;top:893.15px;color:#fff;font-size:17px;line-height:24px"><span class="l" style="margin-right:-2.25px">12L</span></div>
<div class="t" style="left:954.20px;width:87.40px;top:893.15px;color:#fff;font-size:17px;line-height:24px"><span class="l" style="margin-right:-2.25px">15L</span></div>
<div class="t" style="left:1041.60px;width:87.20px;top:893.15px;color:#fff;font-size:17px;line-height:24px"><span class="l" style="margin-right:-2.25px">18L</span></div>
<div class="t" style="left:41.00px;width:236.40px;top:926.45px;color:#1c1c1c;font-size:17px;line-height:24px"><span class="k">压缩机</span><span class="l" style="margin-right:-7.99px"> Compressor</span></div>
<div class="t" style="left:41.00px;width:236.40px;top:956.47px;color:#1c1c1c;font-size:17px;line-height:24px"><span class="k">油加热带</span><span class="l" style="margin-right:-6.62px"> Oil Heater</span></div>
<div class="t" style="left:39.00px;width:236.40px;top:982.15px;color:#1c1c1c;font-size:17px;line-height:24px"><span class="k">排气减震管</span></div>
<div class="t" style="left:43.50px;width:236.40px;top:1004.85px;color:#1c1c1c;font-size:17px;line-height:24px"><span class="l" style="margin-right:-17.71px">Discharge Vibration Damper</span></div>
<div class="t" style="left:41.00px;width:236.40px;top:1033.20px;color:#1c1c1c;font-size:17px;line-height:24px"><span class="k">油分离器</span><span class="l" style="margin-right:-8.61px"> Oil Separator</span></div>
<div class="t" style="left:41.00px;width:236.40px;top:1062.25px;color:#1c1c1c;font-size:17px;line-height:24px"><span class="k">冷凝器</span><span class="l" style="margin-right:-7.24px"> Condensor</span></div>
<div class="t" style="left:41.00px;width:236.40px;top:1091.35px;color:#1c1c1c;font-size:17px;line-height:24px"><span class="l" style="margin-right:-1.98px">AC </span><span class="k">电机</span><span class="l" style="margin-right:-6.04px"> AC Motor</span></div>
<div class="t" style="left:41.00px;width:236.40px;top:1120.40px;color:#1c1c1c;font-size:17px;line-height:24px"><span class="k">储液器</span><span class="l" style="margin-right:-5.98px">  Receiver</span></div>
<div class="t" style="left:41.00px;width:236.40px;top:1149.47px;color:#1c1c1c;font-size:17px;line-height:24px"><span class="k">干燥过滤器</span><span class="l" style="margin-right:-8.20px">  Liquid Filter</span></div>
<div class="t" style="left:41.00px;width:236.40px;top:1178.42px;color:#1c1c1c;font-size:17px;line-height:24px"><span class="k">视液镜</span><span class="l" style="margin-right:-7.26px"> Sight Glass</span></div>
<div class="t" style="left:41.00px;width:236.40px;top:1207.30px;color:#1c1c1c;font-size:17px;line-height:24px"><span class="k">电磁阀</span><span class="l" style="margin-right:-9.61px"> Solenoid Valve</span></div>
<div class="t" style="left:41.00px;width:236.40px;top:1236.67px;color:#1c1c1c;font-size:17px;line-height:24px"><span class="l" style="margin-right:-2.85px">DTC </span><span class="k">喷液阀</span><span class="l" style="margin-right:-7.08px">  DTC Spray</span></div>
<div class="sl" style="left:724.55px;top:1238.38px">/</div>
<div class="sl" style="left:812.05px;top:1238.38px">/</div>
<div class="sl" style="left:899.60px;top:1238.38px">/</div>
<div class="sl" style="left:987.10px;top:1238.38px">/</div>
<div class="sl" style="left:1074.40px;top:1238.38px">/</div>
<div class="t" style="left:41.00px;width:236.40px;top:1265.92px;color:#1c1c1c;font-size:17px;line-height:24px"><span class="k">喷气增焓</span><span class="l" style="margin-right:-2.59px">  EVI</span></div>
<div class="sl" style="left:297.95px;top:1267.62px">/</div>
<div class="sl" style="left:374.25px;top:1267.62px">/</div>
<div class="sl" style="left:461.85px;top:1267.62px">/</div>
<div class="sl" style="left:549.45px;top:1267.62px">/</div>
<div class="sl" style="left:637.00px;top:1267.62px">/</div>
<div class="t" style="left:41.00px;width:236.40px;top:1294.80px;color:#1c1c1c;font-size:17px;line-height:24px"><span class="k">高压保护</span><span class="l" style="margin-right:-6.75px"> HP Switch</span></div>
<div class="t" style="left:41.00px;width:236.40px;top:1323.80px;color:#1c1c1c;font-size:17px;line-height:24px"><span class="k">低压保护</span><span class="l" style="margin-right:-6.50px"> LP Switch</span></div>
<div class="t" style="left:41.00px;width:236.40px;top:1352.67px;color:#1c1c1c;font-size:17px;line-height:24px"><span class="k">高</span><span class="l" style="margin-right:-0.53px">/</span><span class="k">低压表</span><span class="l" style="margin-right:-8.51px"> HP/LP Gauge</span></div>
<div class="t" style="left:41.00px;width:236.40px;top:1381.62px;color:#1c1c1c;font-size:17px;line-height:24px"><span class="k">气液分离器</span><span class="l" style="margin-right:-8.37px"> Accumulator</span></div>
<div class="t" style="left:39.00px;width:236.40px;top:1407.30px;color:#1c1c1c;font-size:17px;line-height:24px"><span class="k">供液管接口阀</span></div>
<div class="t" style="left:42.00px;width:236.40px;top:1430.20px;color:#1c1c1c;font-size:17px;line-height:24px"><span class="l" style="margin-right:-10.66px">Liquid Line Valve</span></div>
<div class="t" style="left:39.00px;width:236.40px;top:1454.80px;color:#1c1c1c;font-size:17px;line-height:24px"><span class="k">回气管接口阀</span></div>
<div class="t" style="left:41.30px;width:236.40px;top:1478.20px;color:#1c1c1c;font-size:17px;line-height:24px"><span class="l" style="margin-right:-11.21px">SuctionLine Valve</span></div>
<div class="t" style="left:39.00px;width:236.40px;top:1502.70px;color:#1c1c1c;font-size:17px;line-height:24px"><span class="k">机组电控</span></div>
<div class="t" style="left:43.00px;width:236.40px;top:1526.00px;color:#1c1c1c;font-size:17px;line-height:24px"><span class="l" style="margin-right:-14.87px">Electric Control for Unit</span></div>
<div class="note" style="top:739.5px">说明：●出厂标配；▲选配件，需额外付费；● Standard Configuration；▲ Optional,need costs extra</div>
<div class="ttl" style="top:787px">6.2 <span class="cj">低温机组</span>Low Temp. unit：</div>
<div class="note" style="top:1552.5px">说明：●出厂标配；▲选配件，需额外付费；● Standard Configuration；▲ Optional,need costs extra</div>
<div class="bar"></div>
</body></html>
